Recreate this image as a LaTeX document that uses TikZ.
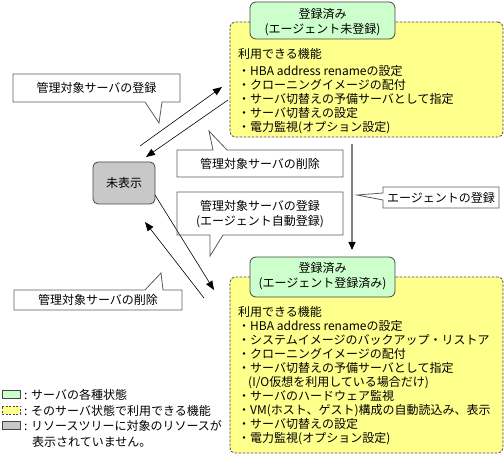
\documentclass[tikz,border=0pt]{standalone}
\usepackage{fontspec}
\setmainfont{Noto Sans CJK JP}
\usetikzlibrary{arrows.meta}
\definecolor{grn}{RGB}{204,255,204}
\definecolor{ylw}{RGB}{255,255,140}
\definecolor{gry}{RGB}{200,200,200}
\definecolor{bd}{RGB}{70,70,70}
\definecolor{cob}{RGB}{90,90,90}
\tikzset{
  ybox/.style={draw=bd, fill=ylw, dashed, dash pattern=on 2.5pt off 1.5pt, line width=0.8pt, rounded corners=5pt, inner sep=0},
  gbox/.style={draw=bd, fill=grn, line width=0.8pt, rounded corners=6pt, inner sep=0},
  hbox/.style={draw=bd, fill=gry, line width=0.8pt, rounded corners=5pt, inner sep=0},
  lst/.style={anchor=base west, inner sep=0},
  ctxt/.style={inner sep=0, align=center},
  co/.style={draw=cob, line width=0.8pt},
  arr/.style={draw=black, line width=0.6pt, -{Triangle[length=9pt,width=7pt]}},
  varr/.style={draw=gray, line width=1.2pt, -{Triangle[length=8pt,width=7pt,color=black]}},
  leg/.style={inner sep=0, minimum width=18pt, minimum height=8pt, line width=0.7pt},
}
\begin{document}
\begin{tikzpicture}[x=1pt,y=-1pt,font=\fontsize{12}{14.5}\selectfont]
\useasboundingbox (0,0) rectangle (504,454);

% top state
\node[ybox, minimum width=273pt, minimum height=115pt] (ytop) at (366.5,79.5) {};
\node[gbox, minimum width=145pt, minimum height=37pt] (gtop) at (322.5,20.5) {};
\node[ctxt] (gtopt) at (322.5,22) {登録済み\\(エージェント未登録)};
\node[lst] (ta0) at (238,58.6) {利用できる機能};
\node[lst] (ta1) at (238,75.6) {・HBA address renameの設定};
\node[lst] (ta2) at (238,89.6) {・クローニングイメージの配付};
\node[lst] (ta3) at (238,103.6) {・サーバ切替えの予備サーバとして指定};
\node[lst] (ta4) at (238,117.6) {・サーバ切替えの設定};
\node[lst] (ta5) at (238,131.6) {・電力監視(オプション設定)};

% bottom state
\node[ybox, minimum width=273pt, minimum height=176pt] (ybot) at (366.5,365) {};
\node[gbox, minimum width=145pt, minimum height=40pt] (gbot) at (322.5,277) {};
\node[ctxt] (gbott) at (322.5,276) {登録済み\\(エージェント登録済み)};
\node[lst] (tb0) at (238,316.6) {利用できる機能};
\node[lst] (tb1) at (238,330.6) {・HBA address renameの設定};
\node[lst] (tb2) at (238,344.6) {・システムイメージのバックアップ・リストア};
\node[lst] (tb3) at (238,358.6) {・クローニングイメージの配付};
\node[lst] (tb4) at (238,372.6) {・サーバ切替えの予備サーバとして指定};
\node[lst] (tb5) at (248,386.6) {(I/O仮想を利用している場合だけ)};
\node[lst] (tb6) at (238,400.6) {・サーバのハードウェア監視};
\node[lst] (tb7) at (238,414.6) {・VM(ホスト、ゲスト)構成の自動読込み、表示};
\node[lst] (tb8) at (238,428.6) {・サーバ切替えの設定};
\node[lst] (tb9) at (238,442.6) {・電力監視(オプション設定)};

% hidden
\node[hbox, minimum width=62pt, minimum height=42pt] (hid) at (124,183) {未表示};

% arrows
\coordinate (a1s) at (140,146); \coordinate (a1e) at (222,87);
\coordinate (a2s) at (228,100); \coordinate (a2e) at (146,157);
\coordinate (a3s) at (155,195); \coordinate (a3e) at (214,290);
\coordinate (a4s) at (204,298); \coordinate (a4e) at (145,222);
\draw[arr] (a1s) -- (a1e);
\draw[arr] (a2s) -- (a2e);
\draw[arr] (a3s) -- (a3e);
\draw[arr] (a4s) -- (a4e);
\coordinate (vs) at (352,144); \coordinate (ve) at (352,250);
\draw[varr] (vs) -- (ve);

% callouts
\node[ctxt] (c1) at (96.5,88) {管理対象サーバの登録};
\coordinate (c1t) at (159,123);
\draw[co] (13,74) -- (180,74) -- (180,102) -- (162,102) -- (c1t) -- (145,102) -- (13,102) -- cycle;

\node[ctxt] (c2) at (260,163.5) {管理対象サーバの削除};
\coordinate (c2t) at (209,131);
\draw[co] (177,150) -- (213,150) -- (c2t) -- (227,150) -- (343,150) -- (343,177) -- (177,177) -- cycle;

\node[ctxt] (c3) at (260,214) {管理対象サーバの登録\\(エージェント自動登録)};
\coordinate (c3t) at (210,256);
\draw[co] (177,192) -- (343,192) -- (343,235) -- (223,235) -- (c3t) -- (210,235) -- (177,235) -- cycle;

\node[ctxt] (c4) at (441,197.5) {エージェントの登録};
\coordinate (c4t) at (357,195);
\draw[co] (383,187) -- (499,187) -- (499,208) -- (383,208) -- (383,200) -- (c4t) -- (383,193) -- cycle;

\node[ctxt] (c5) at (98,300) {管理対象サーバの削除};
\coordinate (c5t) at (161,273);
\draw[co] (14,290) -- (145,290) -- (c5t) -- (163,290) -- (182,290) -- (182,310) -- (14,310) -- cycle;

% legend
\node[leg, draw=bd, fill=grn] (l1) at (11,394.5) {};
\node[leg, draw=bd, fill=ylw, dashed, dash pattern=on 2pt off 1.5pt] (l2) at (11,410) {};
\node[leg, draw=bd, fill=gry] (l3) at (11,425.5) {};
\node[lst] (lt1) at (24,399.6) {: サーバの各種状態};
\node[lst] (lt2) at (24,415.6) {: そのサーバ状態で利用できる機能};
\node[lst] (lt3) at (24,430.6) {: リソースツリーに対象のリソースが};
\node[lst] (lt4) at (32,446.6) {表示されていません。};
\end{tikzpicture}
\end{document}
